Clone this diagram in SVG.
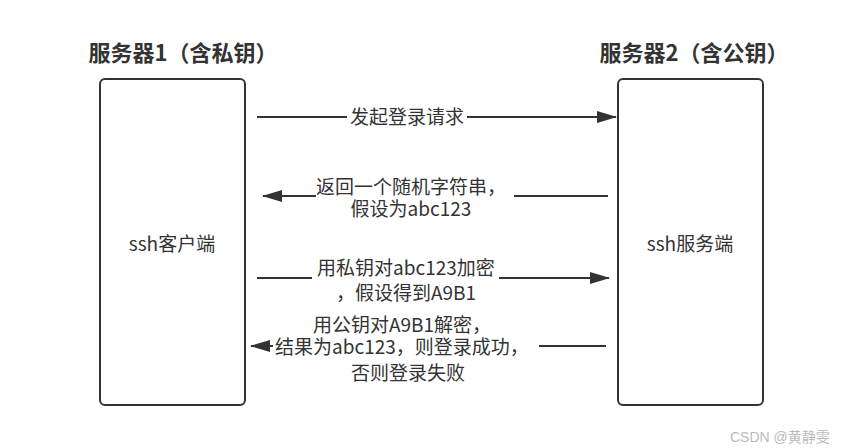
<svg xmlns="http://www.w3.org/2000/svg" width="865" height="448" viewBox="0 0 865 448">
<style>
text{font-family:"Noto Sans CJK SC","Liberation Sans",sans-serif;fill:#333;}
.title{font-size:22px;font-weight:bold;}
.lbl{font-size:19px;}
.box{fill:#fff;stroke:#333;stroke-width:2;}
.ln{stroke:#333;stroke-width:2;fill:none;}
.bg{fill:#fff;}
</style>
<defs>
<marker id="ahb" markerWidth="20" markerHeight="12" refX="19" refY="6" orient="auto" markerUnits="userSpaceOnUse" viewBox="0 0 20 12">
<path d="M0,0 L20,6 L0,12 Z" fill="#333"/>
</marker>
</defs>
<rect width="865" height="448" fill="#fff"/>
<g id="title1"><text class="title" x="183" y="61" text-anchor="middle">服务器1（含私钥）</text></g>
<g id="title2"><text class="title" x="694" y="61" text-anchor="middle">服务器2（含公钥）</text></g>
<g id="client"><rect class="box" x="100" y="79" width="145" height="326" rx="5"/><text class="lbl" x="172" y="251" text-anchor="middle">ssh客户端</text></g>
<g id="server"><rect class="box" x="618" y="79" width="145" height="326" rx="5"/><text class="lbl" x="690" y="251" text-anchor="middle">ssh服务端</text></g>
<g id="connectors">
<line class="ln" x1="257" y1="117" x2="616" y2="117" marker-end="url(#ahb)"/>
<rect class="bg" x="347" y="105" width="120" height="24"/>
<text class="lbl" x="407" y="124" text-anchor="middle">发起登录请求</text>

<line class="ln" x1="608" y1="196" x2="263" y2="196" marker-end="url(#ahb)"/>
<rect class="bg" x="316" y="176" width="198" height="44"/>
<text class="lbl" x="411" y="194" text-anchor="middle">返回一个随机字符串，</text>
<text class="lbl" x="411" y="216" text-anchor="middle">假设为abc123</text>

<line class="ln" x1="257" y1="278" x2="609" y2="278" marker-end="url(#ahb)"/>
<rect class="bg" x="312" y="257" width="187" height="48"/>
<text class="lbl" x="406" y="275" text-anchor="middle">用私钥对abc123加密</text>
<text class="lbl" x="406" y="300" text-anchor="middle">，假设得到A9B1</text>

<line class="ln" x1="606" y1="346" x2="251" y2="346" marker-end="url(#ahb)"/>
<rect class="bg" x="273" y="312" width="266" height="76"/>
<text class="lbl" x="402" y="332" text-anchor="middle">用公钥对A9B1解密，</text>
<text class="lbl" x="402" y="354" text-anchor="middle">结果为abc123，则登录成功，</text>
<text class="lbl" x="408" y="380" text-anchor="middle">否则登录失败</text>
</g>
<text x="730" y="442" style="font-size:14px;fill:#bbb;font-family:'Liberation Sans','Noto Sans CJK SC',sans-serif">CSDN @黄静雯</text>
</svg>
